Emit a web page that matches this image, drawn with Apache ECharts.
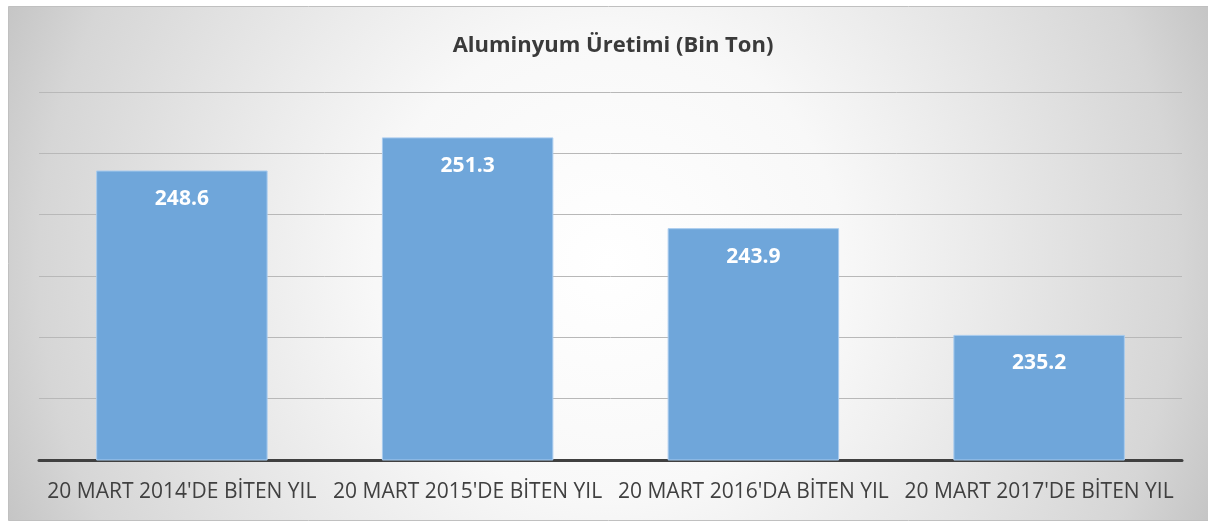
<!DOCTYPE html>
<html><head><meta charset="utf-8">
<script src="https://cdn.jsdelivr.net/npm/echarts@6/dist/echarts.min.js"></script>
<style>html,body{margin:0;padding:0;background:#fff}#c{width:1208px;height:523px}</style>
</head><body><div id="c"></div>
<script>
const title = "Aluminyum Üretimi (Bin Ton)";
const categories = ["20 MART 2014'DE BİTEN YIL", "20 MART 2015'DE BİTEN YIL", "20 MART 2016'DA BİTEN YIL", "20 MART 2017'DE BİTEN YIL"];
const values = [248.6, 251.3, 243.9, 235.2];
const yMin = 225, yMax = 255, yStep = 5;

const chart = echarts.init(document.getElementById('c'), null, {renderer: 'canvas'});
chart.setOption({
  animation: false,
  backgroundColor: '#ffffff',
  graphic: [{
    type: 'rect', z: -10, silent: true,
    shape: {x: 8.5, y: 6.5, width: 1200, height: 514},
    style: {
      fill: {type: 'radial', x: 0.5, y: 0.5, r: 1.3, colorStops: [
        {offset: 0, color: '#ffffff'}, {offset: 0.35, color: '#f8f8f8'}, {offset: 0.5, color: '#eeeeee'},
        {offset: 0.85, color: '#d6d6d6'}, {offset: 1, color: '#c2c2c2'}]},
      stroke: '#c0c0c0', lineWidth: 1
    }
  }],
  title: {
    text: title, left: 608, top: 30, textAlign: 'center',
    textStyle: {fontFamily: 'Open Sans', fontSize: 22, fontWeight: 'bold', color: '#3a3a3a'}
  },
  grid: {left: 39, right: 26, top: 92, bottom: 63},
  xAxis: {
    type: 'category', data: categories,
    axisLine: {lineStyle: {color: '#404040', width: 3}},
    axisTick: {show: false},
    axisLabel: {fontFamily: 'Open Sans', fontSize: 21, color: '#404040', margin: 22, interval: 0}
  },
  yAxis: {
    type: 'value', min: yMin, max: yMax, interval: yStep,
    axisLine: {show: false}, axisTick: {show: false}, axisLabel: {show: false},
    splitLine: {lineStyle: {color: '#b8b8b8', width: 1}}
  },
  series: [{
    type: 'bar', data: values, barWidth: '60%',
    itemStyle: {color: '#6fa6da', borderColor: '#a8cbee', borderWidth: 1},
    label: {show: true, position: 'insideTop', distance: 18, color: '#ffffff',
      fontFamily: 'Open Sans', fontSize: 21, fontWeight: 'bold',
      formatter: p => p.value.toFixed(1)}
  }]
});
</script></body></html>
